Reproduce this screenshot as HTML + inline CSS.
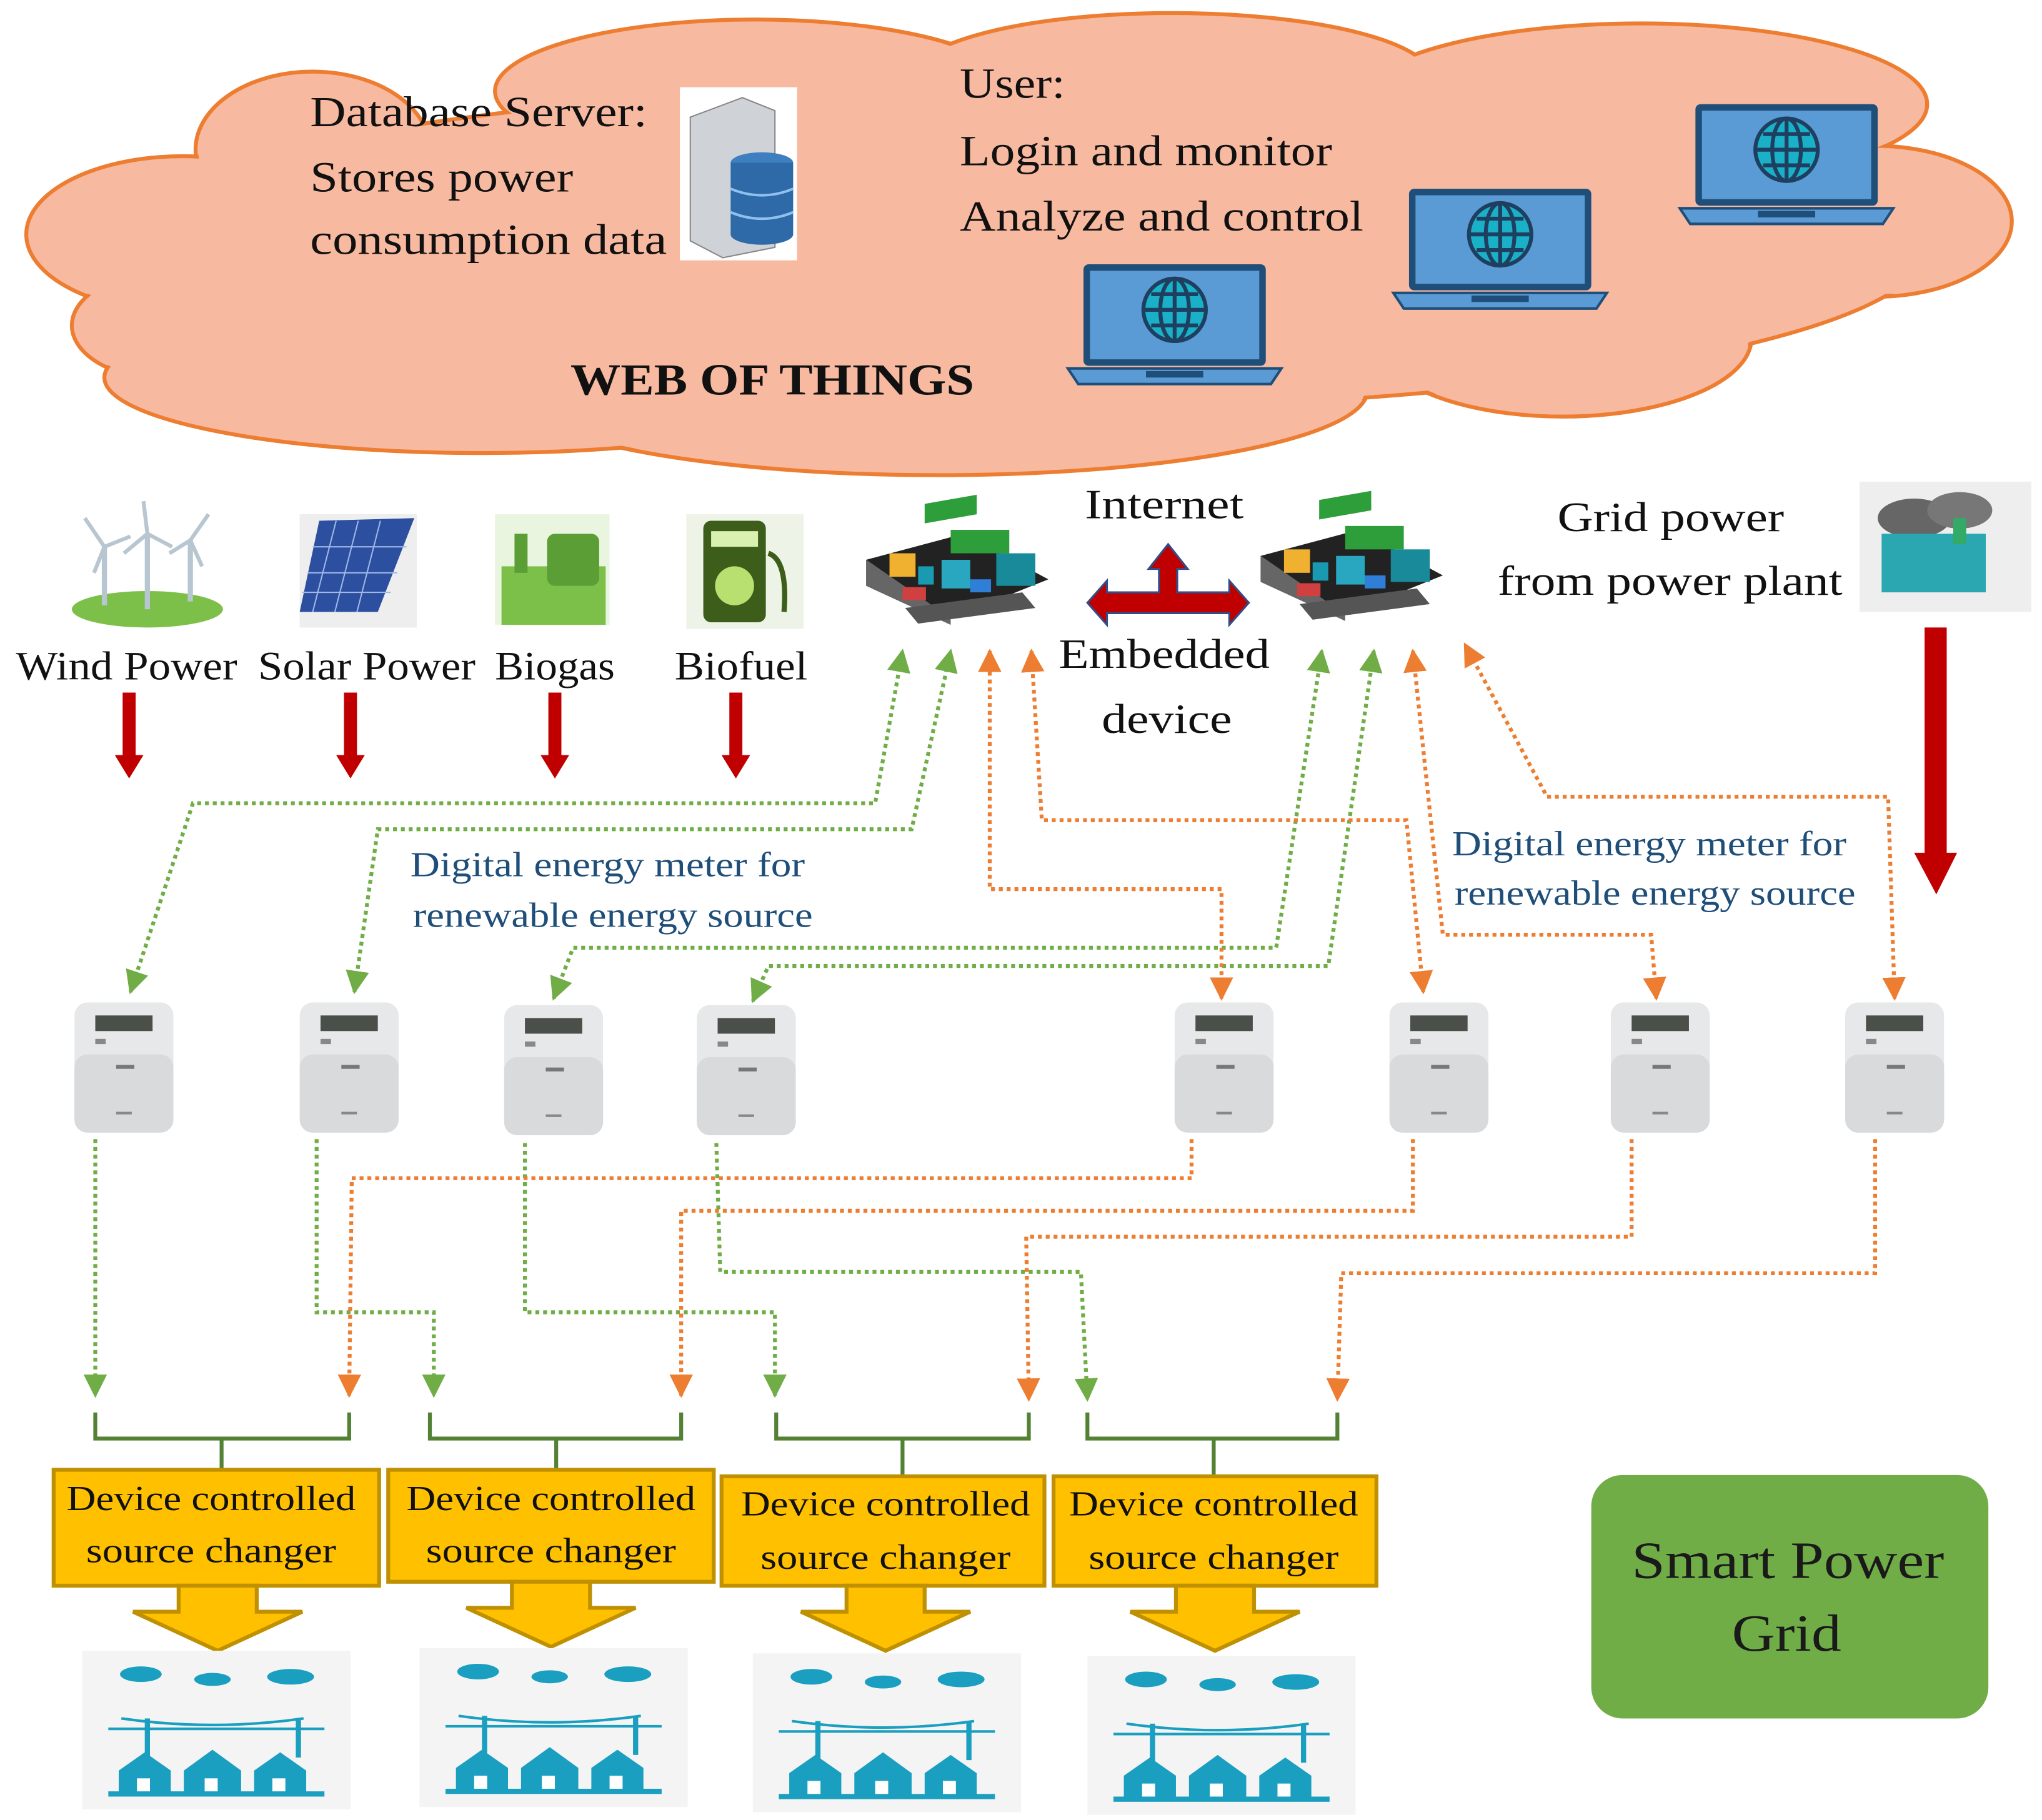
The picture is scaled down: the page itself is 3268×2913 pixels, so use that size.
<!DOCTYPE html>
<html><head><meta charset="utf-8"><style>
html,body{margin:0;padding:0;background:#fff}
svg{display:block}
text{font-family:"Liberation Serif",serif}
</style></head><body>
<svg width="3268" height="2913" viewBox="0 0 1568 1398" xmlns="http://www.w3.org/2000/svg">
<defs>
<marker id="ag" viewBox="0 0 10 10" refX="9" refY="5" markerWidth="6" markerHeight="6" orient="auto-start-reverse" markerUnits="strokeWidth"><path d="M0,0L10,5L0,10z" fill="#70AD47"/></marker>
<marker id="ao" viewBox="0 0 10 10" refX="9" refY="5" markerWidth="6" markerHeight="6" orient="auto-start-reverse" markerUnits="strokeWidth"><path d="M0,0L10,5L0,10z" fill="#ED7D31"/></marker>
<g id="meter">
<rect x="-38" y="0" width="76" height="100" rx="10" fill="#e6e8ea"/>
<rect x="-38" y="40" width="76" height="60" rx="10" fill="#d8dadc"/>
<rect x="-22" y="10" width="44" height="12" fill="#4a4f4a"/>
<rect x="-22" y="28" width="8" height="4" fill="#888"/>
<rect x="-6" y="48" width="14" height="3" fill="#777"/>
<rect x="-6" y="84" width="12" height="2" fill="#888"/>
</g>
<g id="laptop">
<rect x="12" y="0" width="140" height="78" rx="4" fill="#1f4e79"/>
<rect x="17" y="5" width="130" height="68" fill="#5B9BD5"/>
<circle cx="82" cy="35" r="24" fill="#1ab0c8" stroke="#1f3f60" stroke-width="3"/>
<path d="M58,35H106M82,11V59M64,23H100M64,47H100" stroke="#1f3f60" stroke-width="3" fill="none"/>
<ellipse cx="82" cy="35" rx="11" ry="24" fill="none" stroke="#1f3f60" stroke-width="3"/>
<path d="M0,80H164L156,92H8z" fill="#5B9BD5" stroke="#1f4e79" stroke-width="2"/>
<rect x="60" y="82" width="44" height="5" fill="#1f4e79"/>
</g>
<g id="board">
<path d="M0,30L75,10L140,45L65,75z" fill="#222" transform="translate(0,5)"/>
<path d="M0,35L0,55L65,85L65,80z" fill="#666"/>
<rect x="45" y="0" width="40" height="15" fill="#2e9e3a" transform="skewY(-10)"/>
<rect x="65" y="12" width="45" height="18" fill="#2e9e3a"/>
<rect x="18" y="30" width="20" height="18" fill="#f0b030"/>
<rect x="40" y="40" width="12" height="14" fill="#1a9ab0"/>
<rect x="58" y="35" width="22" height="22" fill="#2aa7c0"/>
<rect x="28" y="56" width="18" height="10" fill="#d04040"/>
<rect x="80" y="50" width="16" height="10" fill="#2f7fd8"/>
<rect x="100" y="30" width="30" height="25" fill="#188a9a"/>
<path d="M30,72L120,60L130,72L40,84z" fill="#555"/>
</g>
<g id="town">
<rect x="0" y="0" width="206" height="122" fill="#f4f4f4"/>
<ellipse cx="45" cy="18" rx="16" ry="6" fill="#1a9fc0"/><ellipse cx="100" cy="22" rx="14" ry="5" fill="#1a9fc0"/><ellipse cx="160" cy="20" rx="18" ry="6" fill="#1a9fc0"/>
<path d="M30,52Q100,62 170,52" stroke="#1a9fc0" stroke-width="2" fill="none"/>
<path d="M20,60H186" stroke="#1a9fc0" stroke-width="2"/>
<rect x="48" y="52" width="4" height="30" fill="#1a9fc0"/><rect x="164" y="52" width="4" height="30" fill="#1a9fc0"/>
<path d="M28,110V92L48,78L68,92V110zM78,110V92L100,76L122,92V110zM132,110V92L152,78L172,92V110z" fill="#1a9fc0"/>
<rect x="42" y="98" width="10" height="12" fill="#fff"/><rect x="94" y="98" width="10" height="12" fill="#fff"/><rect x="146" y="98" width="10" height="12" fill="#fff"/>
<rect x="20" y="108" width="166" height="4" fill="#1a9fc0"/>
</g>
</defs>

<!-- cloud -->
<g fill="#F7B9A0" stroke="#ED7D31" stroke-width="3">
<ellipse cx="240" cy="115" rx="90" ry="60"/><ellipse cx="140" cy="180" rx="120" ry="60"/><ellipse cx="130" cy="250" rx="75" ry="42"/>
<ellipse cx="580" cy="70" rx="200" ry="55"/><ellipse cx="900" cy="60" rx="200" ry="50"/><ellipse cx="1260" cy="80" rx="220" ry="62"/>
<ellipse cx="1440" cy="170" rx="105" ry="58"/><ellipse cx="1200" cy="260" rx="145" ry="60"/><ellipse cx="720" cy="300" rx="330" ry="65"/>
<ellipse cx="370" cy="290" rx="290" ry="58"/><ellipse cx="780" cy="190" rx="700" ry="125"/>
</g>
<g fill="#F7B9A0">
<ellipse cx="240" cy="115" rx="88" ry="58"/><ellipse cx="140" cy="180" rx="118" ry="58"/><ellipse cx="130" cy="250" rx="73" ry="40"/>
<ellipse cx="580" cy="70" rx="198" ry="53"/><ellipse cx="900" cy="60" rx="198" ry="48"/><ellipse cx="1260" cy="80" rx="218" ry="60"/>
<ellipse cx="1440" cy="170" rx="103" ry="56"/><ellipse cx="1200" cy="260" rx="143" ry="58"/><ellipse cx="720" cy="300" rx="328" ry="63"/>
<ellipse cx="370" cy="290" rx="288" ry="56"/><ellipse cx="780" cy="190" rx="698" ry="123"/>
</g>
<g font-size="33" fill="#111" lengthAdjust="spacingAndGlyphs">
<text x="238" y="97" textLength="259" lengthAdjust="spacingAndGlyphs">Database Server:</text>
<text x="238" y="147" textLength="202" lengthAdjust="spacingAndGlyphs">Stores power</text>
<text x="238" y="195" textLength="274" lengthAdjust="spacingAndGlyphs">consumption data</text>
<text x="737" y="75" textLength="81" lengthAdjust="spacingAndGlyphs">User:</text>
<text x="737" y="127" textLength="286" lengthAdjust="spacingAndGlyphs">Login and monitor</text>
<text x="737" y="177" textLength="310" lengthAdjust="spacingAndGlyphs">Analyze and control</text>
<text x="438" y="303" font-weight="bold" font-size="34" textLength="310" lengthAdjust="spacingAndGlyphs">WEB OF THINGS</text>
</g>
<!-- server -->
<rect x="522" y="67" width="90" height="133" fill="#fff"/>
<path d="M530,90L570,75L595,85V190L555,198L530,185z" fill="#cfd3d8" stroke="#888"/>
<ellipse cx="585" cy="125" rx="24" ry="8" fill="#3d7fc0"/><rect x="561" y="125" width="48" height="55" fill="#2f6aa8"/><ellipse cx="585" cy="180" rx="24" ry="8" fill="#2f6aa8"/>
<path d="M561,145Q585,155 609,145M561,163Q585,173 609,163" stroke="#8fc0ee" stroke-width="2" fill="none"/>
<use href="#laptop" x="820" y="203"/><use href="#laptop" x="1070" y="145"/><use href="#laptop" x="1290" y="80"/>

<!-- renewable icons -->
<g>
<ellipse cx="113" cy="468" rx="58" ry="14" fill="#7cc04a"/>
<path d="M80,465V420M113,468V410M146,462V415" stroke="#b7c6d0" stroke-width="4"/>
<path d="M80,420L65,398M80,420L100,412M80,420L72,440M113,410L110,385M113,410L132,420M113,410L95,425M146,415L160,395M146,415L130,425M146,415L155,435" stroke="#b7c6d0" stroke-width="3"/>
<path d="M230,395H320V482H230z" fill="#eee"/><path d="M245,400L318,398L290,470L230,470z" fill="#2c4fa0"/>
<path d="M258,400L240,470M275,400L257,470M292,400L274,470M240,420H312M236,440H305M232,455H300" stroke="#9fb8e8" stroke-width="1"/>
<rect x="380" y="395" width="88" height="85" fill="#eaf5e0"/><rect x="385" y="435" width="80" height="45" fill="#7cc04a"/><rect x="420" y="410" width="40" height="40" rx="6" fill="#5a9e35"/><rect x="395" y="410" width="10" height="30" fill="#5a9e35"/>
<rect x="527" y="395" width="90" height="88" fill="#edf3e6"/><rect x="540" y="400" width="48" height="78" rx="6" fill="#3d5e1a"/><rect x="546" y="408" width="36" height="12" fill="#d8f0b0"/><circle cx="564" cy="450" r="15" fill="#b7e070"/><path d="M590,425Q605,430 602,470" stroke="#3d5e1a" stroke-width="4" fill="none"/>
</g>
<g font-size="31" fill="#111">
<text x="12" y="522" textLength="170" lengthAdjust="spacingAndGlyphs">Wind Power</text>
<text x="198" y="522" textLength="167" lengthAdjust="spacingAndGlyphs">Solar Power</text>
<text x="380" y="522" textLength="92" lengthAdjust="spacingAndGlyphs">Biogas</text>
<text x="518" y="522" textLength="102" lengthAdjust="spacingAndGlyphs">Biofuel</text>
</g>
<g fill="#C00000">
<rect x="94" y="532" width="10" height="50"/><path d="M88,580H110L99,598z"/>
<rect x="264" y="532" width="10" height="50"/><path d="M258,580H280L269,598z"/>
<rect x="421" y="532" width="10" height="50"/><path d="M415,580H437L426,598z"/>
<rect x="560" y="532" width="10" height="50"/><path d="M554,580H576L565,598z"/>
<rect x="1478" y="482" width="17" height="175"/><path d="M1470,655H1503L1487,687z"/>
</g>

<use href="#board" x="665" y="395"/><use href="#board" x="968" y="392"/>
<g font-size="32" fill="#111">
<text x="833" y="398" textLength="122" lengthAdjust="spacingAndGlyphs">Internet</text>
<text x="813" y="513" textLength="162" lengthAdjust="spacingAndGlyphs">Embedded</text>
<text x="846" y="563" textLength="100" lengthAdjust="spacingAndGlyphs">device</text>
<text x="1196" y="408" textLength="174" lengthAdjust="spacingAndGlyphs">Grid power</text>
<text x="1150" y="457" textLength="265" lengthAdjust="spacingAndGlyphs">from power plant</text>
</g>
<path d="M835,463L850,446V455H890V437H882L897,418L912,437H904V455H944V446L959,463L944,480V471H850V480z" fill="#C00000" stroke="#2f4e8a" stroke-width="1.5"/>
<!-- factory -->
<rect x="1428" y="370" width="132" height="100" fill="#eee"/>
<ellipse cx="1470" cy="398" rx="28" ry="15" fill="#666"/><ellipse cx="1505" cy="392" rx="25" ry="14" fill="#777"/>
<rect x="1445" y="410" width="80" height="45" fill="#2aa7b0"/><rect x="1500" y="398" width="10" height="20" fill="#3a6"/>
<g font-size="27" fill="#1F4E79">
<text x="315" y="673" textLength="303" lengthAdjust="spacingAndGlyphs">Digital energy meter for</text>
<text x="317" y="712" textLength="307" lengthAdjust="spacingAndGlyphs">renewable energy source</text>
<text x="1115" y="657" textLength="303" lengthAdjust="spacingAndGlyphs">Digital energy meter for</text>
<text x="1117" y="695" textLength="308" lengthAdjust="spacingAndGlyphs">renewable energy source</text>
</g>

<!-- meters -->
<use href="#meter" x="95" y="770"/><use href="#meter" x="268" y="770"/><use href="#meter" x="425" y="772"/><use href="#meter" x="573" y="772"/>
<use href="#meter" x="940" y="770"/><use href="#meter" x="1105" y="770"/><use href="#meter" x="1275" y="770"/><use href="#meter" x="1455" y="770"/>

<!-- connectors -->
<g fill="none" stroke-width="3" stroke-dasharray="3,3">
<g stroke="#70AD47" marker-start="url(#ag)" marker-end="url(#ag)">
<path d="M100,762L148,617H672L693,500"/>
<path d="M272,762L290,637H700L730,500"/>
<path d="M425,767L440,728H980L1015,500"/>
<path d="M578,769L590,742H1020L1055,500"/>
</g>
<g stroke="#70AD47" marker-end="url(#ag)">
<path d="M73,875V1072"/>
<path d="M243,875V1008H333V1072"/>
<path d="M403,878V1008H595V1072"/>
<path d="M550,878L553,977H830L835,1075"/>
</g>
<g stroke="#ED7D31" marker-start="url(#ao)" marker-end="url(#ao)">
<path d="M938,767V683H760V500"/>
<path d="M1093,762L1080,630H800L792,500"/>
<path d="M1272,767L1268,718H1108L1085,500"/>
<path d="M1455,767L1450,612H1188L1125,495"/>
</g>
<g stroke="#ED7D31" marker-end="url(#ao)">
<path d="M915,875V905H270L268,1072"/>
<path d="M1085,875V930H523V1072"/>
<path d="M1253,875V950H788L790,1075"/>
<path d="M1440,875V978H1030L1027,1075"/>
</g>
</g>
<!-- brackets -->
<g fill="none" stroke="#548235" stroke-width="3">
<path d="M73,1085V1105H268V1085M170,1105V1128"/>
<path d="M330,1085V1105H523V1085M427,1105V1128"/>
<path d="M596,1085V1105H790V1085M693,1105V1133"/>
<path d="M835,1085V1105H1027V1085M932,1105V1133"/>
</g>
<g fill="#FFC000" stroke="#BF9000" stroke-width="3">
<rect x="41" y="1129" width="250" height="89"/><rect x="298" y="1129" width="250" height="86"/>
<rect x="554" y="1134" width="248" height="84"/><rect x="809" y="1134" width="248" height="84"/>
<path d="M137,1218H197V1238H232L167,1268L102,1238H137z"/>
<path d="M393,1215H453V1235H488L423,1265L358,1235H393z"/>
<path d="M650,1218H710V1238H745L680,1268L615,1238H650z"/>
<path d="M903,1218H963V1238H998L933,1268L868,1238H903z"/>
</g>
<g font-size="27" fill="#111">
<text x="51" y="1160" textLength="222" lengthAdjust="spacingAndGlyphs">Device controlled</text><text x="66" y="1200" textLength="192" lengthAdjust="spacingAndGlyphs">source changer</text>
<text x="312" y="1160" textLength="222" lengthAdjust="spacingAndGlyphs">Device controlled</text><text x="327" y="1200" textLength="192" lengthAdjust="spacingAndGlyphs">source changer</text>
<text x="569" y="1164" textLength="222" lengthAdjust="spacingAndGlyphs">Device controlled</text><text x="584" y="1205" textLength="192" lengthAdjust="spacingAndGlyphs">source changer</text>
<text x="821" y="1164" textLength="222" lengthAdjust="spacingAndGlyphs">Device controlled</text><text x="836" y="1205" textLength="192" lengthAdjust="spacingAndGlyphs">source changer</text>
</g>
<use href="#town" x="63" y="1268"/><use href="#town" x="322" y="1266"/><use href="#town" x="578" y="1270"/><use href="#town" x="835" y="1272"/>
<rect x="1222" y="1133" width="305" height="187" rx="24" fill="#70AD47"/>
<g font-size="40" fill="#1a1a1a">
<text x="1253" y="1212" textLength="240" lengthAdjust="spacingAndGlyphs">Smart Power</text>
<text x="1330" y="1268" textLength="84" lengthAdjust="spacingAndGlyphs">Grid</text>
</g>
</svg>
</body></html>
